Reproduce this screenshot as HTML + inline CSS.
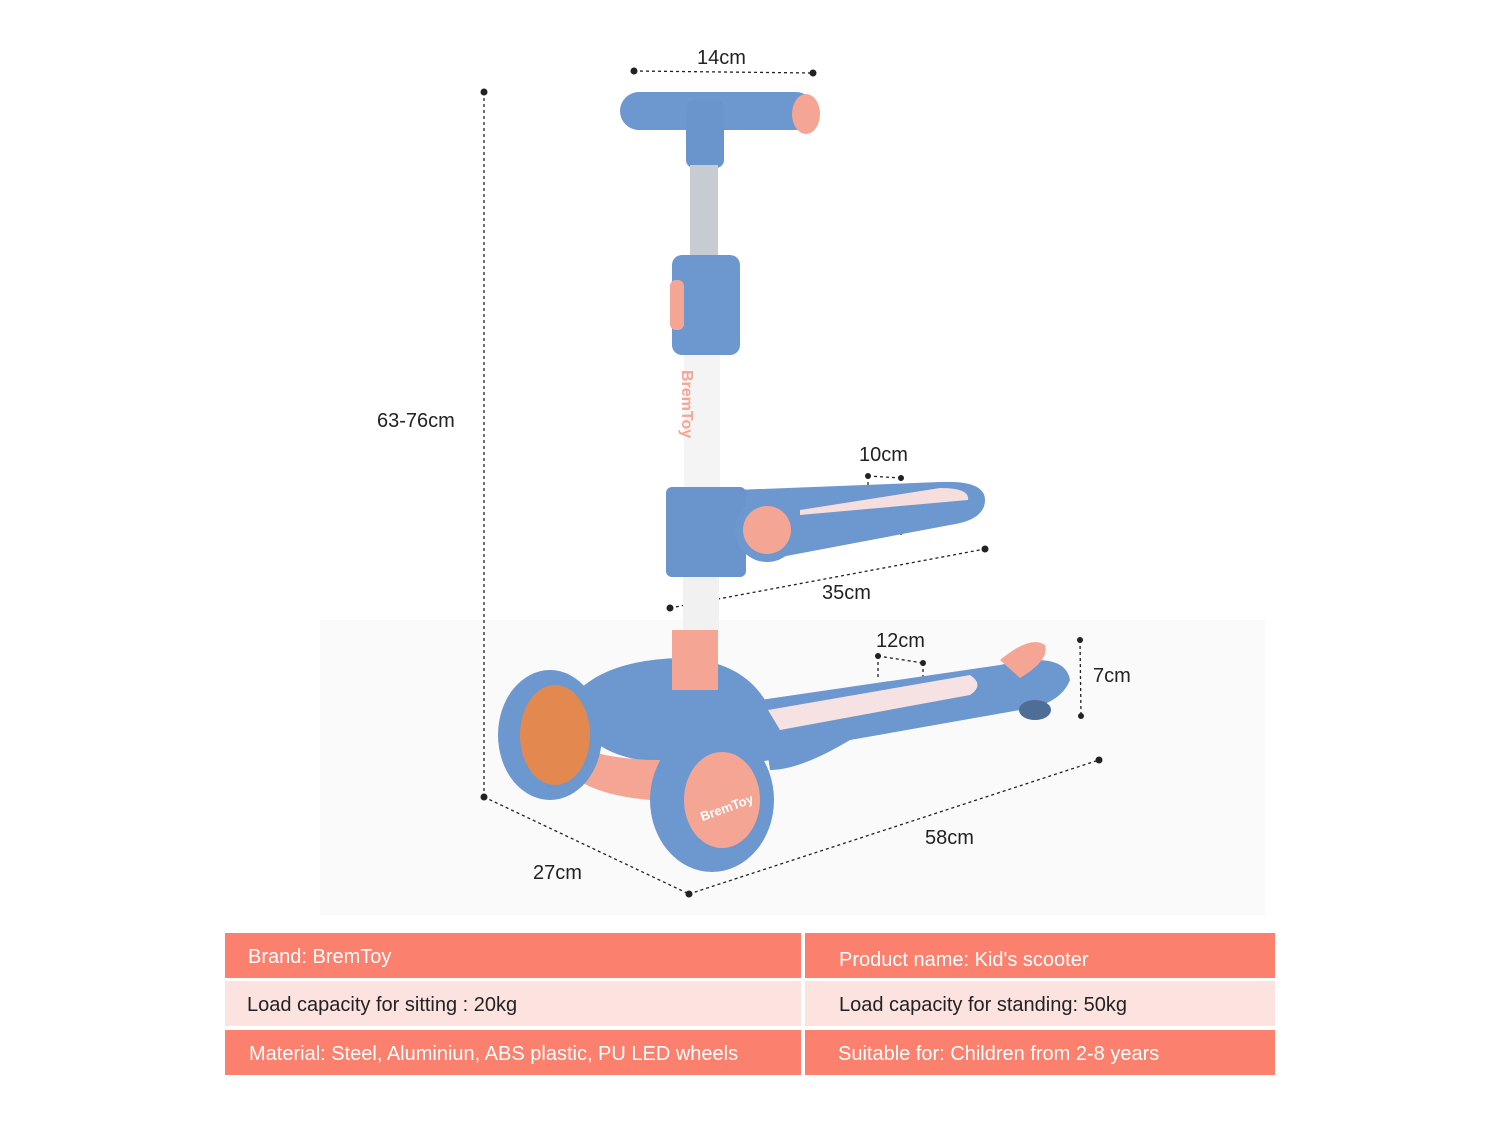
<!DOCTYPE html>
<html><head><meta charset="utf-8"><style>
body{margin:0;background:#fff;width:1500px;height:1125px;overflow:hidden;font-family:"Liberation Sans",sans-serif;}
svg{position:absolute;left:0;top:0}
.row{position:absolute;height:45px;line-height:48px;font-size:20px;box-sizing:border-box;padding-left:23px}
.h{background:#fc806e;color:#fff}
.l{background:#fde3e0;color:#222}
</style></head><body>
<svg width="1500" height="1125" viewBox="0 0 1500 1125">
<rect x="320" y="620" width="945" height="295" fill="#fafafa"/>
<g stroke="#222" stroke-width="1.3" stroke-dasharray="3,3" fill="none">
<line x1="634" y1="71" x2="813" y2="73"/>
<line x1="484" y1="92" x2="484" y2="797"/>
<line x1="484" y1="797" x2="689" y2="894"/>
<line x1="689" y1="894" x2="1099" y2="760"/>
<line x1="670" y1="608" x2="985" y2="549"/>
<line x1="868" y1="476" x2="901" y2="478"/>
<line x1="868" y1="476" x2="868" y2="500"/>
<line x1="901" y1="478" x2="901" y2="535"/>
<line x1="878" y1="656" x2="923" y2="663"/>
<line x1="878" y1="656" x2="878" y2="680"/>
<line x1="923" y1="663" x2="923" y2="720"/>
<line x1="1080" y1="640" x2="1081" y2="716"/>
</g>
<g fill="#222">
<circle cx="634" cy="71" r="3.5"/><circle cx="813" cy="73" r="3.5"/>
<circle cx="484" cy="92" r="3.5"/><circle cx="484" cy="797" r="3.5"/>
<circle cx="689" cy="894" r="3.5"/><circle cx="1099" cy="760" r="3.5"/>
<circle cx="670" cy="608" r="3.5"/><circle cx="985" cy="549" r="3.5"/>
<circle cx="868" cy="476" r="3"/><circle cx="901" cy="478" r="3"/>
<circle cx="878" cy="656" r="3"/><circle cx="923" cy="663" r="3"/>
<circle cx="1080" cy="640" r="3"/><circle cx="1081" cy="716" r="3"/>
</g>
<!-- handlebar -->
<rect x="620" y="92" width="195" height="38" rx="19" fill="#6d97cf"/>
<rect x="686" y="100" width="38" height="68" rx="8" fill="#6a94cc"/>
<ellipse cx="806" cy="114" rx="14" ry="20" fill="#f4a594"/>
<rect x="690" y="165" width="28" height="100" fill="#c8ccd2"/>
<rect x="672" y="255" width="68" height="100" rx="10" fill="#6d97cf"/>
<rect x="670" y="280" width="14" height="50" rx="6" fill="#f4a594"/>
<rect x="684" y="355" width="36" height="140" fill="#f4f4f4"/>
<!-- seat -->
<path d="M735 490 L940 482 Q985 480 985 500 Q985 520 950 525 L765 560 Z" fill="#6d97cf"/>
<path d="M800 510 L940 488 Q970 488 968 500 L800 515 Z" fill="#f6dede"/>
<rect x="666" y="487" width="80" height="90" rx="6" fill="#6a94cc"/>
<circle cx="767" cy="530" r="32" fill="#6d97cf"/>
<circle cx="767" cy="530" r="24" fill="#f4a594"/>
<rect x="683" y="577" width="36" height="55" fill="#f1f1f1"/>
<!-- base -->
<path d="M760 700 L1000 665 Q1065 650 1070 680 Q1060 705 1020 710 L850 740 Q800 770 770 770 Z" fill="#6d97cf"/>
<path d="M768 710 L970 675 Q985 685 970 695 L780 730 Z" fill="#f6e2e2"/>
<path d="M1000 660 Q1030 635 1045 645 Q1050 660 1020 678 Z" fill="#f4a594"/>
<ellipse cx="1035" cy="710" rx="16" ry="10" fill="#4e6e98"/>
<path d="M570 700 Q600 660 680 658 Q740 660 765 700 L770 760 Q720 770 640 760 Q580 750 570 700 Z" fill="#6d97cf"/>
<rect x="672" y="630" width="46" height="60" fill="#f4a594"/>
<path d="M560 740 Q600 760 660 760 L650 800 Q590 795 565 770 Z" fill="#f4a594"/>
<ellipse cx="550" cy="735" rx="52" ry="65" fill="#6d97cf"/>
<ellipse cx="555" cy="735" rx="35" ry="50" fill="#e3894f"/>
<ellipse cx="712" cy="800" rx="62" ry="72" fill="#6d97cf"/>
<ellipse cx="722" cy="800" rx="38" ry="48" fill="#f4a594"/>
<text x="727" y="812" font-size="13" fill="#fff" text-anchor="middle" transform="rotate(-20 727 808)" font-weight="bold">BremToy</text>
<text x="682" y="370" font-size="16" fill="#f4a594" font-weight="bold" transform="rotate(90 682 370)">BremToy</text>
<g font-size="20" fill="#222">
<text x="697" y="64">14cm</text>
<text x="377" y="427">63-76cm</text>
<text x="859" y="461">10cm</text>
<text x="822" y="599">35cm</text>
<text x="876" y="647">12cm</text>
<text x="1093" y="682">7cm</text>
<text x="925" y="844">58cm</text>
<text x="533" y="879">27cm</text>
</g>
</svg>
<div class="row h" style="left:225px;top:933px;width:576px">Brand: BremToy</div>
<div class="row h" style="left:805px;top:933px;width:470px;padding-left:34px;line-height:54px">Product name: Kid's scooter</div>
<div class="row l" style="left:225px;top:981px;width:576px;padding-left:22px">Load capacity for sitting : 20kg</div>
<div class="row l" style="left:805px;top:981px;width:470px;padding-left:34px">Load capacity for standing: 50kg</div>
<div class="row h" style="left:225px;top:1030px;width:576px;padding-left:24px">Material: Steel, Aluminiun, ABS plastic, PU LED wheels</div>
<div class="row h" style="left:805px;top:1030px;width:470px;padding-left:33px">Suitable for: Children from 2-8 years</div>
</body></html>
